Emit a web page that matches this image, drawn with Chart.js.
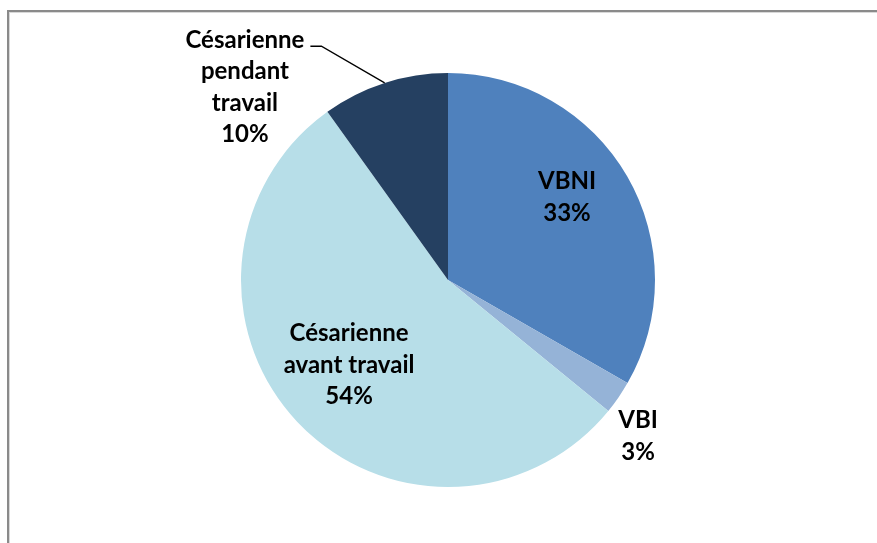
<!DOCTYPE html>
<html lang="fr">
<head>
    <meta charset="UTF-8">
    <title>Répartition des modes d'accouchement</title>
    <script src="https://cdn.jsdelivr.net/npm/chart.js@4.4.1/dist/chart.umd.min.js"></script>
    <style>
        html, body { margin: 0; padding: 0; background: #fff; overflow: hidden; }
        .frame {
            position: absolute; left: 7px; top: 10px;
            width: 1000px; height: 1000px;
            border-left: 2px solid #8a8a8a; border-top: 2px solid #8a8a8a;
            box-shadow: inset 1px 1px 0 #d8d8d8;
        }
        .chart-container { position: absolute; left: 0; top: 0; width: 877px; height: 543px; }
    </style>
</head>
<body>
    <div class="frame"></div>
    <div class="chart-container">
        <canvas id="pieChart"></canvas>
    </div>

    <script>
        // slice data
        const categories = ['VBNI', 'VBI', 'Césarienne avant travail', 'Césarienne pendant travail'];
        const values = [33.3, 2.6, 54.2, 9.9];
        const colors = ['#4F81BD', '#95B3D7', '#B7DEE8', '#254061'];
        // how each label is broken into lines
        const labelLines = [['VBNI'], ['VBI'], ['Césarienne', 'avant travail'], ['Césarienne', 'pendant', 'travail']];

        // label block centres, relative to the pie centre in units of the radius
        const labelSpots = [[0.575, -0.40], [0.918, 0.755], [-0.478, 0.41], [-0.981, -0.93]];

        const total = values.reduce((a, b) => a + b, 0);

        const pieLabels = {
            id: 'pieLabels',
            afterDatasetsDraw(chart) {
                const ctx = chart.ctx;
                const arcs = chart.getDatasetMeta(0).data;
                ctx.save();
                ctx.font = 'bold 24px Lato, "Open Sans", sans-serif';
                ctx.fillStyle = '#000';
                ctx.textAlign = 'center';
                ctx.textBaseline = 'middle';
                const lh = 31.5;
                arcs.forEach((arc, i) => {
                    const r = arc.outerRadius;
                    const cx = arc.x + labelSpots[i][0] * r;
                    const cy = arc.y + labelSpots[i][1] * r;
                    const lines = labelLines[i].concat([Math.round(values[i] / total * 100) + '%']);
                    const y0 = cy - (lines.length - 1) * lh / 2;
                    lines.forEach((t, k) => ctx.fillText(t, cx, y0 + k * lh));

                    // leader line for the outside label at the top
                    if (i === 3) {
                        const mid = (arc.startAngle + arc.endAngle) / 2;
                        const ex = arc.x + Math.cos(mid) * r;
                        const ey = arc.y + Math.sin(mid) * r;
                        const w = ctx.measureText(lines[0]).width;
                        const sx = cx + w / 2 + 6;
                        ctx.beginPath();
                        ctx.moveTo(sx, y0 + 6);
                        ctx.lineTo(sx + 11, y0 + 6);
                        ctx.lineTo(ex, ey);
                        ctx.strokeStyle = '#000';
                        ctx.lineWidth = 1.3;
                        ctx.stroke();
                    }
                });
                ctx.restore();
            }
        };

        new Chart(document.getElementById('pieChart'), {
            type: 'pie',
            data: {
                labels: categories,
                datasets: [{
                    data: values,
                    backgroundColor: colors,
                    borderWidth: 0
                }]
            },
            options: {
                responsive: true,
                maintainAspectRatio: false,
                animation: false,
                layout: {
                    padding: { left: 19, right: 0, top: 73, bottom: 56 }
                },
                plugins: {
                    legend: { display: false },
                    tooltip: { enabled: false }
                }
            },
            plugins: [pieLabels]
        });
    </script>
</body>
</html>
